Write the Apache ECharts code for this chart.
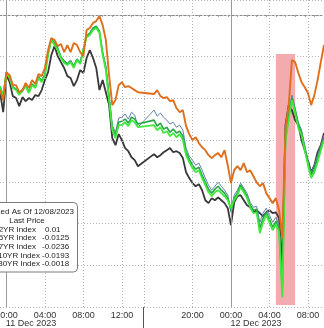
<!DOCTYPE html>
<html><head><meta charset="utf-8">
<script src="https://cdn.jsdelivr.net/npm/echarts@6/dist/echarts.min.js"></script>
<style>html,body{margin:0;padding:0;background:#fff}#c{width:324px;height:328px}</style>
</head><body><div id="c"></div>
<script>
// Series values (bp change, normalized), sampled every 20 min from 23:20 10 Dec
const orange2y = [-3.60,-4.08,-2.74,-2.88,-3.36,-3.36,-3.70,-3.60,-3.26,-3.50,
-3.12,-3.31,-2.83,-2.93,-2.54,-1.68,-1.10,-1.20,-1.49,-1.39,
-1.78,-1.44,-1.78,-1.34,-1.44,-1.78,-1.97,-0.72,-0.62,-0.38,
-0.29,-0.05,-0.48,-1.20,-2.88,-4.32,-4.08,-3.36,-3.22,-3.46,
-3.41,-3.50,-3.60,-3.70,null,null,null,null,-3.79,-3.60,
-3.89,-3.98,-3.94,-4.13,-4.08,-4.46,-4.66,-4.56,-5.33,-5.71,
-6.00,-5.86,-6.14,-6.34,-6.48,-6.72,-6.86,-6.72,-6.62,-6.82,
-6.48,-7.20,-8.06,-7.44,-7.25,-7.44,-7.10,-7.54,-7.44,-7.73,
-8.02,-8.21,-8.06,-8.54,-8.78,-9.02,-8.78,-9.36,-10.70,-5.42,
-4.32,-2.16,-2.26,-2.78,-3.22,-3.46,-3.74,-4.32,-3.84,-3.12,
-2.26,-1.44];
const blue5y = [-3.50,-3.79,-2.83,-3.02,-3.41,-3.55,-3.79,-3.55,-3.36,-3.65,
-3.31,-3.46,-2.98,-3.12,-2.83,-1.87,-1.20,-1.39,-1.63,-1.97,
-2.21,-2.30,-2.16,-2.45,-2.11,-2.26,-1.58,-1.01,-0.91,-0.67,
-0.58,-0.82,-1.78,-2.45,-3.84,-5.28,-5.62,-4.94,-4.90,-4.75,
-4.99,-4.66,-4.80,-5.38,null,null,null,null,-4.56,-4.85,
-4.70,-4.90,-5.04,-5.23,-5.14,-5.38,-5.28,-5.52,-6.38,-6.77,
-6.96,-7.20,-7.10,-7.44,-7.82,-8.16,-8.40,-8.21,-8.02,-8.21,
-8.40,-8.64,-9.46,-8.64,-8.40,-8.06,-8.30,-8.54,-8.98,-9.22,
-9.17,-9.94,-9.50,-9.26,-9.60,-9.94,-9.70,-10.08,-12.72,-5.76,
-4.66,-3.84,-4.46,-5.14,-5.52,-6.24,-6.96,-7.54,-7.20,-6.72,
-6.24,-5.76];
const green7y = [-3.41,-3.89,-2.74,-2.98,-3.46,-3.55,-3.79,-3.65,-3.36,-3.70,
-3.31,-3.46,-2.93,-3.17,-2.83,-1.78,-1.15,-1.34,-1.58,-2.02,
-2.21,-2.35,-2.21,-2.45,-2.11,-2.30,-1.63,-1.01,-0.86,-0.62,
-0.53,-0.77,-1.82,-2.54,-3.94,-5.42,-5.76,-5.14,-5.09,-4.99,
-5.18,-4.90,-4.99,-5.23,null,null,null,null,-5.04,-5.33,
-5.18,-5.47,-5.38,-5.62,-5.47,-5.66,-5.57,-5.81,-6.58,-6.91,
-7.20,-7.39,-7.30,-7.68,-8.02,-8.35,-8.54,-8.35,-8.21,-8.40,
-8.54,-8.78,-9.36,-8.78,-8.54,-8.16,-8.40,-8.69,-9.12,-9.36,
-9.31,-10.22,-9.74,-9.46,-9.79,-10.18,-9.89,-10.27,-13.20,-5.90,
-4.85,-3.98,-4.56,-5.28,-5.62,-6.38,-7.10,-7.68,-7.39,-6.91,
-6.38,-5.90];
const lime10y = [-3.46,-3.84,-2.78,-3.02,-3.50,-3.60,-3.84,-3.60,-3.41,-3.74,
-3.36,-3.50,-3.02,-3.22,-2.93,-1.92,-1.20,-1.44,-1.68,-2.06,
-2.30,-2.40,-2.26,-2.54,-2.16,-2.35,-1.68,-1.06,-0.96,-0.72,
-0.62,-0.86,-1.92,-2.64,-4.08,-5.52,-5.90,-5.28,-5.28,-5.14,
-5.33,-5.04,-5.14,-5.38,null,null,null,null,-5.28,-5.52,
-5.38,-5.66,-5.57,-5.81,-5.66,-5.86,-5.71,-6.00,-6.72,-7.06,
-7.34,-7.54,-7.44,-7.82,-8.16,-8.50,-8.69,-8.50,-8.40,-8.54,
-8.69,-8.88,-9.26,-8.88,-8.64,-8.26,-8.50,-8.78,-9.22,-9.50,
-9.46,-10.46,-9.94,-9.60,-9.94,-10.32,-10.03,-10.42,-13.54,-6.00,
-5.04,-4.08,-4.70,-5.42,-5.76,-6.48,-7.20,-7.82,-7.54,-7.06,
-6.48,-6.00];
const black30y = [-3.70,-4.66,-2.88,-3.22,-3.89,-3.98,-4.37,-3.94,-4.13,-3.98,
-4.08,-3.84,-3.89,-3.60,-3.12,-2.74,-1.92,-1.49,-1.97,-2.26,
-2.54,-2.93,-3.02,-3.41,-3.12,-2.64,-2.78,-2.06,-1.68,-2.06,
-2.54,-3.60,-3.12,-3.70,-4.32,-5.90,-6.24,-5.71,-6.00,-6.38,
-6.53,-6.82,-6.96,-7.25,null,null,null,null,-6.67,-6.82,
-6.72,-6.58,-6.48,-6.38,-6.58,-6.53,-6.62,-6.86,-7.54,-7.82,
-8.06,-8.21,-8.11,-8.40,-8.88,-9.02,-8.78,-8.88,-8.74,-8.88,
-9.02,-9.26,-10.08,-8.98,-8.69,-8.64,-8.88,-9.12,-9.22,-9.46,
-9.36,-9.50,-9.65,-9.46,-9.36,-9.50,-9.46,-9.74,-12.00,-5.28,
-4.32,-4.56,-5.04,-5.28,-6.00,-6.48,-6.96,-7.54,-7.20,-6.58,
-6.24,-5.66];

const legendTitle = 'Normalized As Of 12/08/2023';
const legendSub = 'Last Price';
const legendNames = ['USGG2YR Index','USGG5YR Index','USGG7YR Index','USGG10YR Index','USGG30YR Index'];
const lastPrices = ['0.01','-0.0125','-0.0236','-0.0193','-0.0018'];
const dateLabels = ['11 Dec 2023','12 Dec 2023'];
const highlight = {from:'2023-12-12 04:40', to:'2023-12-12 06:40', top:-1.87, bottom:-13.9};

// time categories every 20 minutes (two idle slots in the session break are not plotted)
const skip = ['2023-12-11 14:20','2023-12-11 14:40'];
const categories = [];
(function(){
  const p = n => String(n).padStart(2,'0');
  let t = Date.UTC(2023,11,10,23,20);
  const end = Date.UTC(2023,11,12,9,40);
  while (t <= end) {
    const d = new Date(t);
    const s = d.getUTCFullYear()+'-'+p(d.getUTCMonth()+1)+'-'+p(d.getUTCDate())+' '+p(d.getUTCHours())+':'+p(d.getUTCMinutes());
    if (skip.indexOf(s) < 0) categories.push(s);
    t += 20*60000;
  }
})();
const firstLabel = '2023-12-11 00:00';
const isLabel = s => { const hh=+s.slice(11,13), mm=+s.slice(14,16); return mm===0 && hh%4===0 && hh!==16 && s!==firstLabel; };
const dotted = ['2023-12-11 04:00','2023-12-11 08:00','2023-12-11 12:00','2023-12-11 15:00','2023-12-11 20:00','2023-12-12 04:00','2023-12-12 08:00'];
const solid = ['2023-12-11 00:00','2023-12-12 00:00'];

const FONT = 'Liberation Sans';
const chart = echarts.init(document.getElementById('c'), null, {renderer:'canvas'});
function mk(name, data, color, w, z){
  return {name, type:'line', data, showSymbol:false, connectNulls:true, z,
    lineStyle:{color, width:w}, itemStyle:{color}, animation:false, silent:true};
}
chart.setOption({
  animation:false,
  grid:{left:0, right:0, top:0, bottom:21, containLabel:false, outerBoundsMode:'none'},
  xAxis:{type:'category', data:categories, boundaryGap:false,
    axisLine:{show:true, lineStyle:{color:'#8a8a8a', type:[2,2], width:1}},
    axisTick:{show:true, interval:(i)=>i%3===2, length:2, lineStyle:{color:'#999'}},
    axisLabel:{interval:(i,v)=>isLabel(v), formatter:v=>v.slice(11), color:'#333', fontFamily:FONT, fontSize:9, margin:4, hideOverlap:false},
    splitLine:{show:false}},
  yAxis:{type:'value', min:-14, max:0.72, interval:2, position:'right',
    axisLabel:{show:false}, axisLine:{show:false}, axisTick:{show:false},
    splitLine:{show:true, lineStyle:{color:'#b5b5b5', type:[1,2], width:1}}},
  series:[
    {type:'line', data:[], z:1, silent:true,
      markArea:{silent:true, itemStyle:{color:'#f3abb0'},
        data:[[{xAxis:highlight.from, yAxis:highlight.top},{xAxis:highlight.to, yAxis:highlight.bottom}]]},
      markLine:{silent:true, symbol:'none', label:{show:false},
        data: dotted.map(c=>({xAxis:c, lineStyle:{color:'#b0b0b0', type:[1,2], width:1}}))
          .concat(solid.map(c=>({xAxis:c, lineStyle:{color:'#9a9a9a', type:'solid', width:1}})))}},
    mk(legendNames[4], black30y, '#383838', 1.8, 2),
    mk(legendNames[1], blue5y, '#5f82a8', 1, 3),
    mk(legendNames[2], green7y, '#22a844', 1.6, 4),
    mk(legendNames[3], lime10y, '#3fe83a', 1.8, 5),
    mk(legendNames[0], orange2y, '#e06f1c', 1.9, 6)
  ]
});
// first time label sits on the left edge and is cut by it, as in the reference
const p0 = chart.convertToPixel({xAxisIndex:0}, firstLabel);
chart.setOption({
  graphic:[
    {type:'text', x:p0, y:315.5, style:{text:firstLabel.slice(11), font:'9px '+FONT, fill:'#333', textAlign:'center', textVerticalAlign:'middle'}},
    {type:'line', shape:{x1:143.5,y1:307,x2:143.5,y2:328}, style:{stroke:'#555', lineWidth:1}, z:10},
    {type:'text', x:31, y:324, style:{text:dateLabels[0], font:'9px '+FONT, fill:'#333', textAlign:'center', textVerticalAlign:'middle'}},
    {type:'text', x:256, y:324, style:{text:dateLabels[1], font:'9px '+FONT, fill:'#333', textAlign:'center', textVerticalAlign:'middle'}},
    {type:'rect', shape:{x:-6, y:202.5, width:83.5, height:69.5, r:4}, style:{fill:'#fff', stroke:'#7a7a7a', lineWidth:1}, z:20},
    {type:'text', x:74, y:212, z:21, style:{text:legendTitle, font:'8px '+FONT, fill:'#222', textAlign:'right', textVerticalAlign:'middle'}},
    {type:'text', x:27, y:221, z:21, style:{text:legendSub, font:'8px '+FONT, fill:'#222', textAlign:'center', textVerticalAlign:'middle'}}
  ].concat(legendNames.map((n,i)=>({type:'text', x:(i<3?36:40), y:229.5+i*8.6, z:21,
      style:{text:n, font:'8px '+FONT, fill:'#222', textAlign:'right', textVerticalAlign:'middle'}})))
   .concat(lastPrices.map((v,i)=>({type:'text', x:(v.charAt(0)==='-'?42:45), y:229.5+i*8.6, z:21,
      style:{text:v, font:'8px '+FONT, fill:'#222', textAlign:'left', textVerticalAlign:'middle'}})))
});
</script></body></html>
